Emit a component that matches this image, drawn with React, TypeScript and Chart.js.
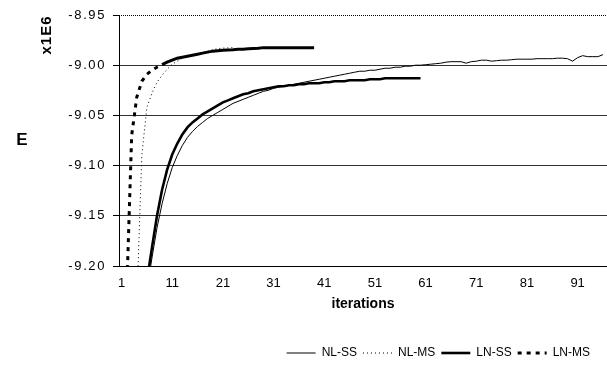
import React, { useEffect, useRef } from 'react';
import { Chart, registerables } from 'chart.js';

Chart.register(...registerables);

// x categories: iteration numbers
const iterations: number[] = Array.from({ length: 96 }, (_, i) => i + 1);
const xTickValues = [1, 11, 21, 31, 41, 51, 61, 71, 81, 91];
const Y_MIN = -9.2;
const Y_MAX = -8.95;
const Y_STEP = 0.05;

// series values (x1E6), each list starts at the given iteration
const nlSsStart = 6;
const nlSs = [
  -9.225, -9.192, -9.162, -9.138, -9.118, -9.102, -9.09, -9.08, -9.072, -9.066,
  -9.061, -9.057, -9.053, -9.05, -9.047, -9.044, -9.041, -9.038, -9.036, -9.034,
  -9.032, -9.03, -9.028, -9.026, -9.025, -9.023, -9.022, -9.021, -9.02, -9.019,
  -9.018, -9.017, -9.016, -9.015, -9.014, -9.013, -9.012, -9.011, -9.01, -9.009,
  -9.008, -9.007, -9.006, -9.006, -9.005, -9.005, -9.004, -9.003, -9.003, -9.002,
  -9.002, -9.001, -9.001, -9.0, -9.0, -8.9995, -8.999, -8.9985, -8.998, -8.997,
  -8.9965, -8.9965, -8.9965, -8.998, -8.9965, -8.996, -8.995, -8.995, -8.996, -8.9955,
  -8.995, -8.995, -8.9945, -8.994, -8.994, -8.994, -8.994, -8.9935, -8.9935, -8.9935,
  -8.9935, -8.993, -8.993, -8.9935, -8.996, -8.9925, -8.9905, -8.9915, -8.9915, -8.9915,
  -8.9895,
];

const nlMsStart = 4;
const nlMs = [
  -9.24, -9.09, -9.042, -9.028, -9.017, -9.01, -9.004, -8.999, -8.996, -8.993,
  -8.9915, -8.99, -8.989, -8.9875, -8.986, -8.9845, -8.9835, -8.983, -8.9828, -8.9825,
];

const lnSsStart = 6;
const lnSs = [
  -9.215, -9.182, -9.15, -9.124, -9.104, -9.089, -9.078, -9.069, -9.062, -9.057,
  -9.053, -9.049, -9.046, -9.043, -9.04, -9.037, -9.035, -9.033, -9.031, -9.029,
  -9.028, -9.026, -9.025, -9.024, -9.023, -9.022, -9.021, -9.021, -9.02, -9.02,
  -9.019, -9.019, -9.018, -9.018, -9.018, -9.017, -9.017, -9.016, -9.016, -9.016,
  -9.015, -9.015, -9.015, -9.015, -9.014, -9.014, -9.014, -9.013, -9.013, -9.013,
  -9.013, -9.013, -9.013, -9.013, -9.013,
];

const lnMsStart = 2;
const lnMs = [
  -9.23, -9.07, -9.032, -9.016, -9.009, -9.005, -9.002, -8.9995, -8.997, -8.995,
  -8.993, -8.992, -8.991, -8.99, -8.989, -8.988, -8.987, -8.986, -8.9855, -8.985,
  -8.9848, -8.9845, -8.984, -8.984, -8.9835, -8.9833, -8.983, -8.9825, -8.9825, -8.9825,
  -8.9825, -8.9825, -8.9825, -8.9825, -8.9825, -8.9825, -8.9825, -8.9825,
];

const toSeries = (start: number, values: number[]) =>
  iterations.map((it) => {
    const v = values[it - start];
    return v === undefined ? null : v;
  });

const FONT = '"Liberation Sans", Arial, sans-serif';
const DOTTED = [1, 3];
const DASHED = [4, 5];

const decorPlugin = {
  id: 'decor',
  afterLayout(chart: any) {
    const ys = chart.scales.y;
    if (ys && !ys._lsPatched) {
      const orig = ys.drawLabels;
      ys.drawLabels = function (area: any) {
        const ctx = this.ctx;
        const prev = ctx.letterSpacing;
        ctx.letterSpacing = '1.6px';
        orig.call(this, area);
        ctx.letterSpacing = prev || '0px';
      };
      ys._lsPatched = true;
    }
    if (chart.legend) {
      chart.legend.right -= 11;
      chart.legend.top += 2;
      chart.legend.bottom += 2;
    }
  },
  beforeDatasetsDraw(chart: any) {
    const { ctx, chartArea, scales } = chart;
    const py = Math.round(scales.y.getPixelForValue(Y_MAX)) + 0.5;
    ctx.save();
    ctx.strokeStyle = '#000';
    ctx.lineWidth = 1;
    ctx.setLineDash([1, 1]);
    ctx.beginPath();
    ctx.moveTo(chartArea.left, py);
    ctx.lineTo(chartArea.right, py);
    ctx.stroke();
    ctx.restore();
  },
  afterDraw(chart: any) {
    const { ctx, chartArea } = chart;
    ctx.save();
    ctx.fillStyle = '#000';
    ctx.textAlign = 'center';
    ctx.textBaseline = 'middle';
    ctx.font = `bold 17px ${FONT}`;
    ctx.fillText('E', 22, (chartArea.top + chartArea.bottom) / 2);
    ctx.translate(47, chartArea.top + 20);
    ctx.rotate(-Math.PI / 2);
    ctx.font = `bold 15px ${FONT}`;
    ctx.letterSpacing = '1px';
    ctx.fillText('x1E6', 0, 0);
    ctx.restore();
  },
};

export default function App() {
  const ref = useRef<HTMLCanvasElement>(null);
  useEffect(() => {
    document.body.style.margin = '0';
    const canvas = ref.current!;
    const chart = new Chart(canvas, {
      type: 'line',
      data: {
        labels: iterations,
        datasets: [
          {
            label: 'NL-SS',
            data: toSeries(nlSsStart, nlSs),
            borderColor: '#000',
            backgroundColor: '#000',
            borderWidth: 1,
            pointRadius: 0,
            tension: 0,
            clip: 0,
          },
          {
            label: 'NL-MS',
            data: toSeries(nlMsStart, nlMs),
            borderColor: '#000',
            backgroundColor: '#000',
            borderWidth: 1,
            borderDash: DOTTED,
            pointRadius: 0,
            tension: 0,
            clip: 0,
          },
          {
            label: 'LN-SS',
            data: toSeries(lnSsStart, lnSs),
            borderColor: '#000',
            backgroundColor: '#000',
            borderWidth: 2.6,
            pointRadius: 0,
            tension: 0,
            clip: 0,
          },
          {
            label: 'LN-MS',
            data: toSeries(lnMsStart, lnMs),
            borderColor: '#000',
            backgroundColor: '#000',
            borderWidth: 3,
            borderDash: DASHED,
            pointRadius: 0,
            tension: 0,
            clip: 0,
            segment: {
              borderDash: (c: any) => (c.p0.parsed.x < 9 ? DASHED : []),
            },
          },
        ] as any,
      },
      options: {
        animation: false,
        responsive: false,
        devicePixelRatio: 1,
        events: [],
        layout: { padding: { top: 15, right: 0, bottom: 0, left: 0 } },
        plugins: {
          legend: {
            display: true,
            position: 'bottom',
            align: 'end',
            labels: {
              usePointStyle: true,
              pointStyle: 'line',
              pointStyleWidth: 29,
              padding: 6,
              color: '#000',
              font: { family: FONT, size: 12 },
              generateLabels: (ch: any) => {
                const items = Chart.defaults.plugins.legend.labels.generateLabels(ch);
                items.forEach((it: any) => {
                  const ds: any = ch.data.datasets[it.datasetIndex];
                  it.lineDash = ds.borderDash || [];
                  it.lineWidth = ds.borderWidth;
                  it.strokeStyle = '#000';
                  it.fillStyle = '#000';
                  it.pointStyle = 'line';
                });
                return items;
              },
            },
          },
          tooltip: { enabled: false },
        },
        scales: {
          x: {
            type: 'linear',
            min: 0.5,
            max: 96.8,
            grid: { display: false, drawTicks: false },
            border: { display: true, color: '#000', width: 1 },
            afterBuildTicks: (axis: any) => {
              axis.ticks = xTickValues.map((v) => ({ value: v }));
            },
            ticks: {
              autoSkip: false,
              maxRotation: 0,
              padding: 10,
              color: '#000',
              font: { family: FONT, size: 13 },
              callback: (v: any) => String(v),
            },
            title: {
              display: true,
              text: 'iterations',
              color: '#000',
              font: { family: FONT, size: 14, weight: 'bold' },
              padding: { top: 0, bottom: 26 },
            },
            afterFit: (axis: any) => {
              axis.height = 73;
            },
          },
          y: {
            type: 'linear',
            min: Y_MIN,
            max: Y_MAX,
            grid: {
              color: (c: any) =>
                c.tick && Math.abs(c.tick.value - Y_MAX) < 1e-6 ? 'rgba(0,0,0,0)' : '#333',
              tickColor: '#000',
              tickLength: 6,
              lineWidth: 1,
            },
            border: { display: true, color: '#000', width: 1 },
            ticks: {
              stepSize: Y_STEP,
              padding: 7,
              color: '#000',
              font: { family: FONT, size: 13 },
              callback: (v: any) => Number(v).toFixed(2),
            },
            afterFit: (axis: any) => {
              axis.width = 119;
            },
          },
        },
      } as any,
      plugins: [decorPlugin],
    });
    return () => chart.destroy();
  }, []);
  return (
    <div style={{ width: 607, height: 367 }}>
      <canvas ref={ref} width={607} height={367} style={{ display: 'block' }} />
    </div>
  );
}
